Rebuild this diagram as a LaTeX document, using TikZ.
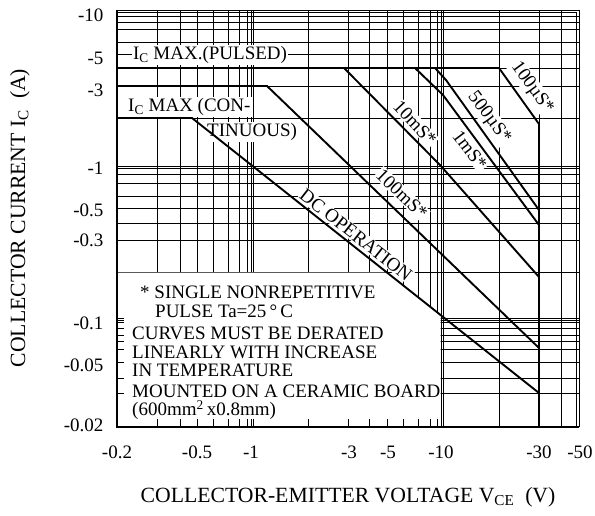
\documentclass[tikz,border=0pt]{standalone}
\usepackage{fontspec}
\setmainfont{Liberation Serif}
\usepackage{tikz}
\usetikzlibrary{positioning,calc}

\tikzset{
  gridline/.style={line width=0.8pt},
  curve/.style={line width=1.9pt},
  ticklabel/.style={font=\fontsize{19}{19}\selectfont},
  curvelabel/.style={fill=white,inner sep=1pt,font=\fontsize{19}{19}\selectfont},
  note/.style={anchor=west,inner sep=0pt,font=\fontsize{19}{19}\selectfont},
  axistitle/.style={font=\fontsize{21.7}{21.7}\selectfont}
}

\begin{document}
\begin{tikzpicture}[x=1pt,y=-1pt]
\useasboundingbox (0,0) rectangle (595,516);
% grid
\foreach \gx in {157,180,197,213,228,239,247,251,253,308,348,369,387,403,418,430,437,441,443,499,539,561}
  \draw[gridline] (\gx,10) -- (\gx,427);
\foreach \gy in {16,22,29,42,54,68,86,118,166,168,174,183,196,208,223,240,272,318,320,322,328,335,341,349,362,378,393}
  \draw[gridline] (117,\gy) -- (579,\gy);
% note area
\fill[white] (118,272.5) -- (386,272.5) -- (440.5,316) -- (440.5,426) -- (118,426) -- cycle;
\foreach \gx in {157,180,197,213,228,239,247,251,253,308,348,369,387,403,418,430,437}
  \draw[gridline] (\gx,427) -- (\gx,419);
\foreach \gy in {318,320,322,328,335,341,349,362,378,393}
  \draw[gridline] (117,\gy) -- (124,\gy);

% labels in the plot
\node[curvelabel] (pulsed) at (210,55) {I\textsubscript{C} MAX.(PULSED)};
\node[curvelabel,anchor=west] (cont1) at (127,107) {I\textsubscript{C} MAX (CON-};
\node[curvelabel,anchor=west] (cont2) at (206,132) {TINUOUS)};
\node[curvelabel,rotate=-54] (us100) at (532,88) {100µS*};
\node[curvelabel,rotate=-53] (us500) at (489,118) {500µS*};
\node[curvelabel,rotate=-53] (ms1) at (470,150) {1mS*};
\node[curvelabel,rotate=-47] (ms10) at (415,123) {10mS*};
\node[curvelabel,rotate=-44] (ms100) at (402,194) {100mS*};
\node[curvelabel,rotate=-38] (dcop) at (356,235) {DC OPERATION};

% SOA curves
\draw[curve] (117,68) -- (499,68) -- (539,124) -- (539,427);
\draw[curve] (117,86) -- (267,86) -- (539,348);
\draw[curve] (117,118) -- (192,118) -- (539,393);
\draw[curve] (344,68) -- (440,165) -- (539,277);
\draw[curve] (415,68) -- (443,95) -- (539,225);
\draw[curve] (435,68) -- (446,80) -- (539,210);

% frame
\draw[gridline] (117,10) -- (579,10) -- (579,427);
\draw[gridline] (117,12.5) -- (576.5,12.5) -- (576.5,427);
\draw[line width=2pt] (117,10) -- (117,427) -- (579,427);

% notes
\node[note] (n1) at (140,292) {* SINGLE NONREPETITIVE};
\node[note] (n2) at (155,311) {PULSE Ta=25\,°\,C};
\node[note] (n3) at (132,333) {CURVES MUST BE DERATED};
\node[note] (n4) at (132,352) {LINEARLY WITH INCREASE};
\node[note] (n5) at (132,370) {IN TEMPERATURE};
\node[note] (n6) at (132,391) {MOUNTED ON A CERAMIC BOARD};
\node[note] (n7) at (132,410) {(600mm\textsuperscript{2}\,x0.8mm)};

% axis numbers
\node[ticklabel,anchor=east] (y10) at (107,15) {-10};
\node[ticklabel,anchor=east] (y5) at (107,58) {-5};
\node[ticklabel,anchor=east] (y3) at (107,90) {-3};
\node[ticklabel,anchor=east] (y1) at (107,168) {-1};
\node[ticklabel,anchor=east] (y05) at (107,210) {-0.5};
\node[ticklabel,anchor=east] (y03) at (107,240) {-0.3};
\node[ticklabel,anchor=east] (y01) at (107,323) {-0.1};
\node[ticklabel,anchor=east] (y005) at (107,365) {-0.05};
\node[ticklabel,anchor=east] (y002) at (107,425) {-0.02};
\node[ticklabel] (x02) at (117,452) {-0.2};
\node[ticklabel] (x05) at (197,452) {-0.5};
\node[ticklabel] (x1) at (251,452) {-1};
\node[ticklabel] (x3) at (349,452) {-3};
\node[ticklabel] (x5) at (388,452) {-5};
\node[ticklabel] (x10) at (441,452) {-10};
\node[ticklabel] (x30) at (539,452) {-30};
\node[ticklabel] (x50) at (580,452) {-50};

% axis titles
\node[axistitle] (xtitle) at (348,497) {COLLECTOR-EMITTER VOLTAGE V\textsubscript{CE}\ \ (V)};
\node[axistitle,rotate=90] (ytitle) at (20,218) {COLLECTOR CURRENT I\textsubscript{C}\ \ (A)};
\end{tikzpicture}
\end{document}
